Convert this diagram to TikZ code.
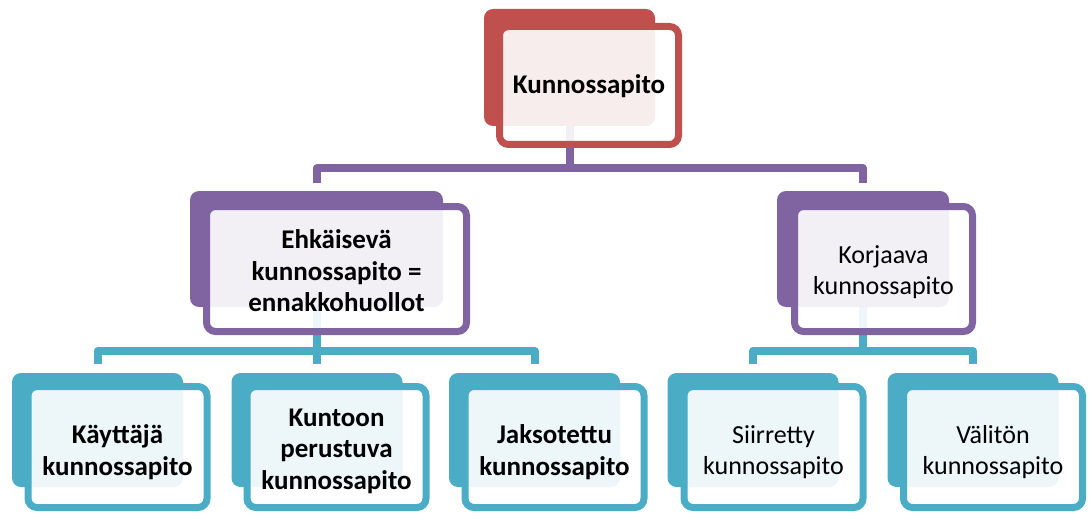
\documentclass[tikz,border=0pt]{standalone}
\usepackage{fontspec}
\setmainfont{Carlito}
\usetikzlibrary{backgrounds}
\definecolor{cred}{HTML}{C0504D}
\definecolor{cpur}{HTML}{8064A2}
\definecolor{cblu}{HTML}{4BACC6}
\tikzset{
  backbox/.style={rectangle, rounded corners=9pt, fill=#1, draw=none,
    minimum width=171pt, minimum height=114pt, inner sep=0pt},
  frontbox/.style={rectangle, rounded corners=9pt, draw=#1, line width=7pt,
    fill=white, fill opacity=0.9, draw opacity=1,
    minimum width=179pt, minimum height=121pt, inner sep=0pt},
  txt/.style={align=center, inner sep=0pt, font=\fontsize{26}{31.5}\selectfont},
  boldtext/.style={font=\fontsize{27}{31.5}\selectfont\bfseries},
  conn/.style={draw=#1, line width=8pt, line join=round},
}
\begin{document}
\begin{tikzpicture}[x=1pt, y=-1pt]
\useasboundingbox (0,0) rectangle (1091,513);

% level 0
\node[backbox=cred, minimum height=117pt] (topb) at (569.5,67.5) {};
\node[frontbox=cred, minimum height=118pt] (topf) at (589,85.5) {};
\node[txt, boldtext] (topt) at ([yshift=-1pt]topf.center) {Kunnossapito};

% level 1
\node[backbox=cpur, minimum width=253pt, minimum height=116pt] (ehkb) at (316.5,249) {};
\node[frontbox=cpur, minimum width=260pt, minimum height=125pt] (ehkf) at (336.5,269) {};
\node[txt, boldtext] (ehkt) at ([yshift=-2pt]ehkf.center) {Ehkäisevä\\kunnossapito =\\ennakkohuollot};
\node[backbox=cpur, minimum width=172pt, minimum height=116pt] (korb) at (863,249) {};
\node[frontbox=cpur, minimum width=178pt, minimum height=125pt] (korf) at (883.5,269) {};
\node[txt] (kort) at ([yshift=-3pt]korf.center) {Korjaava\\kunnossapito};

% level 2
\node[backbox=cblu] (kab) at (97.5,430) {};
\node[frontbox=cblu] (kaf) at (117.5,447) {};
\node[txt, boldtext] (kat) at ([yshift=-5pt]kaf.center) {Käyttäjä\\kunnossapito};
\node[backbox=cblu] (kub) at (317,430) {};
\node[frontbox=cblu] (kuf) at (336.5,447) {};
\node[txt, boldtext] (kut) at ([yshift=-4pt]kuf.center) {Kuntoon\\perustuva\\kunnossapito};
\node[backbox=cblu] (jab) at (534.5,430) {};
\node[frontbox=cblu] (jaf) at (554.5,447) {};
\node[txt, boldtext] (jat) at ([yshift=-5pt]jaf.center) {Jaksotettu\\kunnossapito};
\node[backbox=cblu] (sib) at (753,430) {};
\node[frontbox=cblu] (sif) at (773.5,447) {};
\node[txt] (sit) at ([yshift=-5pt]sif.center) {Siirretty\\kunnossapito};
\node[backbox=cblu] (vab) at (973,430) {};
\node[frontbox=cblu] (vaf) at (993,447) {};
\node[txt] (vat) at ([yshift=-5pt]vaf.center) {Välitön\\kunnossapito};

\coordinate (bus1) at (topb.south |- 0,168.5);
\coordinate (bus2) at (ehkb.south |- 0,351);
\coordinate (bus3) at (korb.south |- 0,351);

\begin{scope}[on background layer]
  \draw[conn=cpur] (topb.south) -- (bus1);
  \draw[conn=cpur, shorten <=8pt, shorten >=8pt] (ehkb.north) |- (bus1) -| (korb.north);
  \draw[conn=cblu] (ehkb.south) -- (bus2);
  \draw[conn=cblu, shorten <=8.5pt, shorten >=8.5pt] (kab.north) |- (bus2) -| (jab.north);
  \draw[conn=cblu, shorten >=8.5pt] (kub.north |- bus2) -- (kub.north);
  \draw[conn=cblu] (korb.south) -- (bus3);
  \draw[conn=cblu, shorten <=8.5pt, shorten >=8.5pt] (sib.north) |- (bus3) -| (vab.north);
\end{scope}
\end{tikzpicture}
\end{document}
